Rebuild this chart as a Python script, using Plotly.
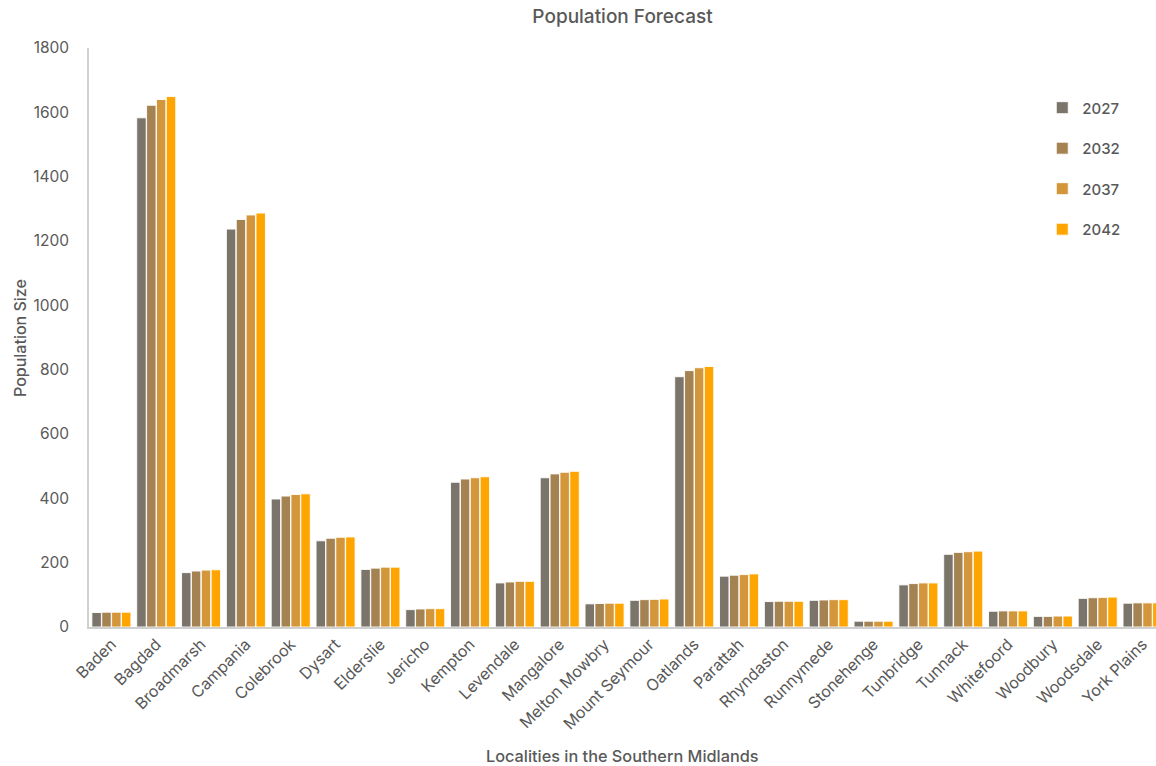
import plotly.graph_objects as go

localities = ["Baden", "Bagdad", "Broadmarsh", "Campania", "Colebrook", "Dysart", "Elderslie",
              "Jericho", "Kempton", "Levendale", "Mangalore", "Melton Mowbry", "Mount Seymour",
              "Oatlands", "Parattah", "Rhyndaston", "Runnymede", "Stonehenge", "Tunbridge",
              "Tunnack", "Whitefoord", "Woodbury", "Woodsdale", "York Plains"]

pop_2027 = [45, 1583, 169, 1237, 398, 268, 179, 54, 450, 137, 464, 72, 83, 778, 158, 79, 83, 18, 131, 226, 49, 33, 89, 74]
pop_2032 = [46, 1622, 174, 1267, 407, 276, 183, 56, 460, 140, 476, 73, 85, 797, 161, 80, 84, 18, 135, 232, 50, 33, 91, 75]
pop_2037 = [46, 1640, 177, 1281, 412, 279, 186, 57, 464, 142, 481, 74, 86, 806, 163, 80, 85, 18, 137, 234, 50, 34, 92, 75]
pop_2042 = [46, 1649, 178, 1287, 414, 280, 186, 57, 467, 142, 484, 74, 87, 810, 165, 80, 85, 18, 137, 236, 50, 34, 93, 75]

series = [("2027", pop_2027, "#7a746b"),
          ("2032", pop_2032, "#a58251"),
          ("2037", pop_2037, "#d3963b"),
          ("2042", pop_2042, "#ffa502")]

y_ticks = list(range(0, 1801, 200))

FONT = "Inter"
GREY = "#595959"

fig = go.Figure()
for i, (name, vals, col) in enumerate(series):
    fig.add_trace(go.Bar(
        name=name, x=localities, y=vals,
        marker=dict(color=col, line=dict(color="rgba(255,255,255,0.9)", width=1)),
        legendgroup=name,
    ))

fig.update_layout(
    width=1156, height=766,
    margin=dict(l=89, r=0, t=48, b=139),
    paper_bgcolor="white", plot_bgcolor="white",
    barmode="group", bargap=0.12, bargroupgap=0.04,
    font=dict(family=FONT, size=15, color=GREY),
    title=dict(text="Population Forecast", x=0.5, xref="paper", xanchor="center",
               y=1 - 16 / 766, yref="container", yanchor="middle",
               font=dict(family=FONT, size=19, color=GREY, weight=500)),
    showlegend=True,
    legend=dict(x=0.8934, xanchor="left", y=0.925, yanchor="top",
                font=dict(family=FONT, size=15, color=GREY, weight=500),
                tracegroupgap=18, itemwidth=30, bgcolor="rgba(0,0,0,0)"),
    xaxis=dict(
        range=[-0.5, 23.3], tickangle=-45, showgrid=False, showline=True,
        linecolor="#d0d0d0", linewidth=1.5, ticks="", tickfont=dict(size=16, color=GREY),
        automargin=False, fixedrange=True,
    ),
    yaxis=dict(
        range=[0, 1800], tickvals=y_ticks, showgrid=False, showline=True,
        linecolor="#d0d0d0", linewidth=1.5, ticks="", ticklabelstandoff=15,
        tickfont=dict(size=15.5, color=GREY), automargin=False, zeroline=False,
    ),
    annotations=[
        dict(text="Localities in the Southern Midlands", xref="paper", yref="paper",
             x=0.5, y=-(756 - 627) / 579, xanchor="center", yanchor="middle", showarrow=False,
             font=dict(family=FONT, size=16.3, color=GREY, weight=500)),
        dict(text="Population Size", xref="paper", yref="paper",
             x=-(89 - 20) / 1067, y=(627 - 338) / 579, xanchor="center", yanchor="middle",
             textangle=-90, showarrow=False,
             font=dict(family=FONT, size=16, color=GREY, weight=500)),
    ],
)

fig.write_html("out.html")
